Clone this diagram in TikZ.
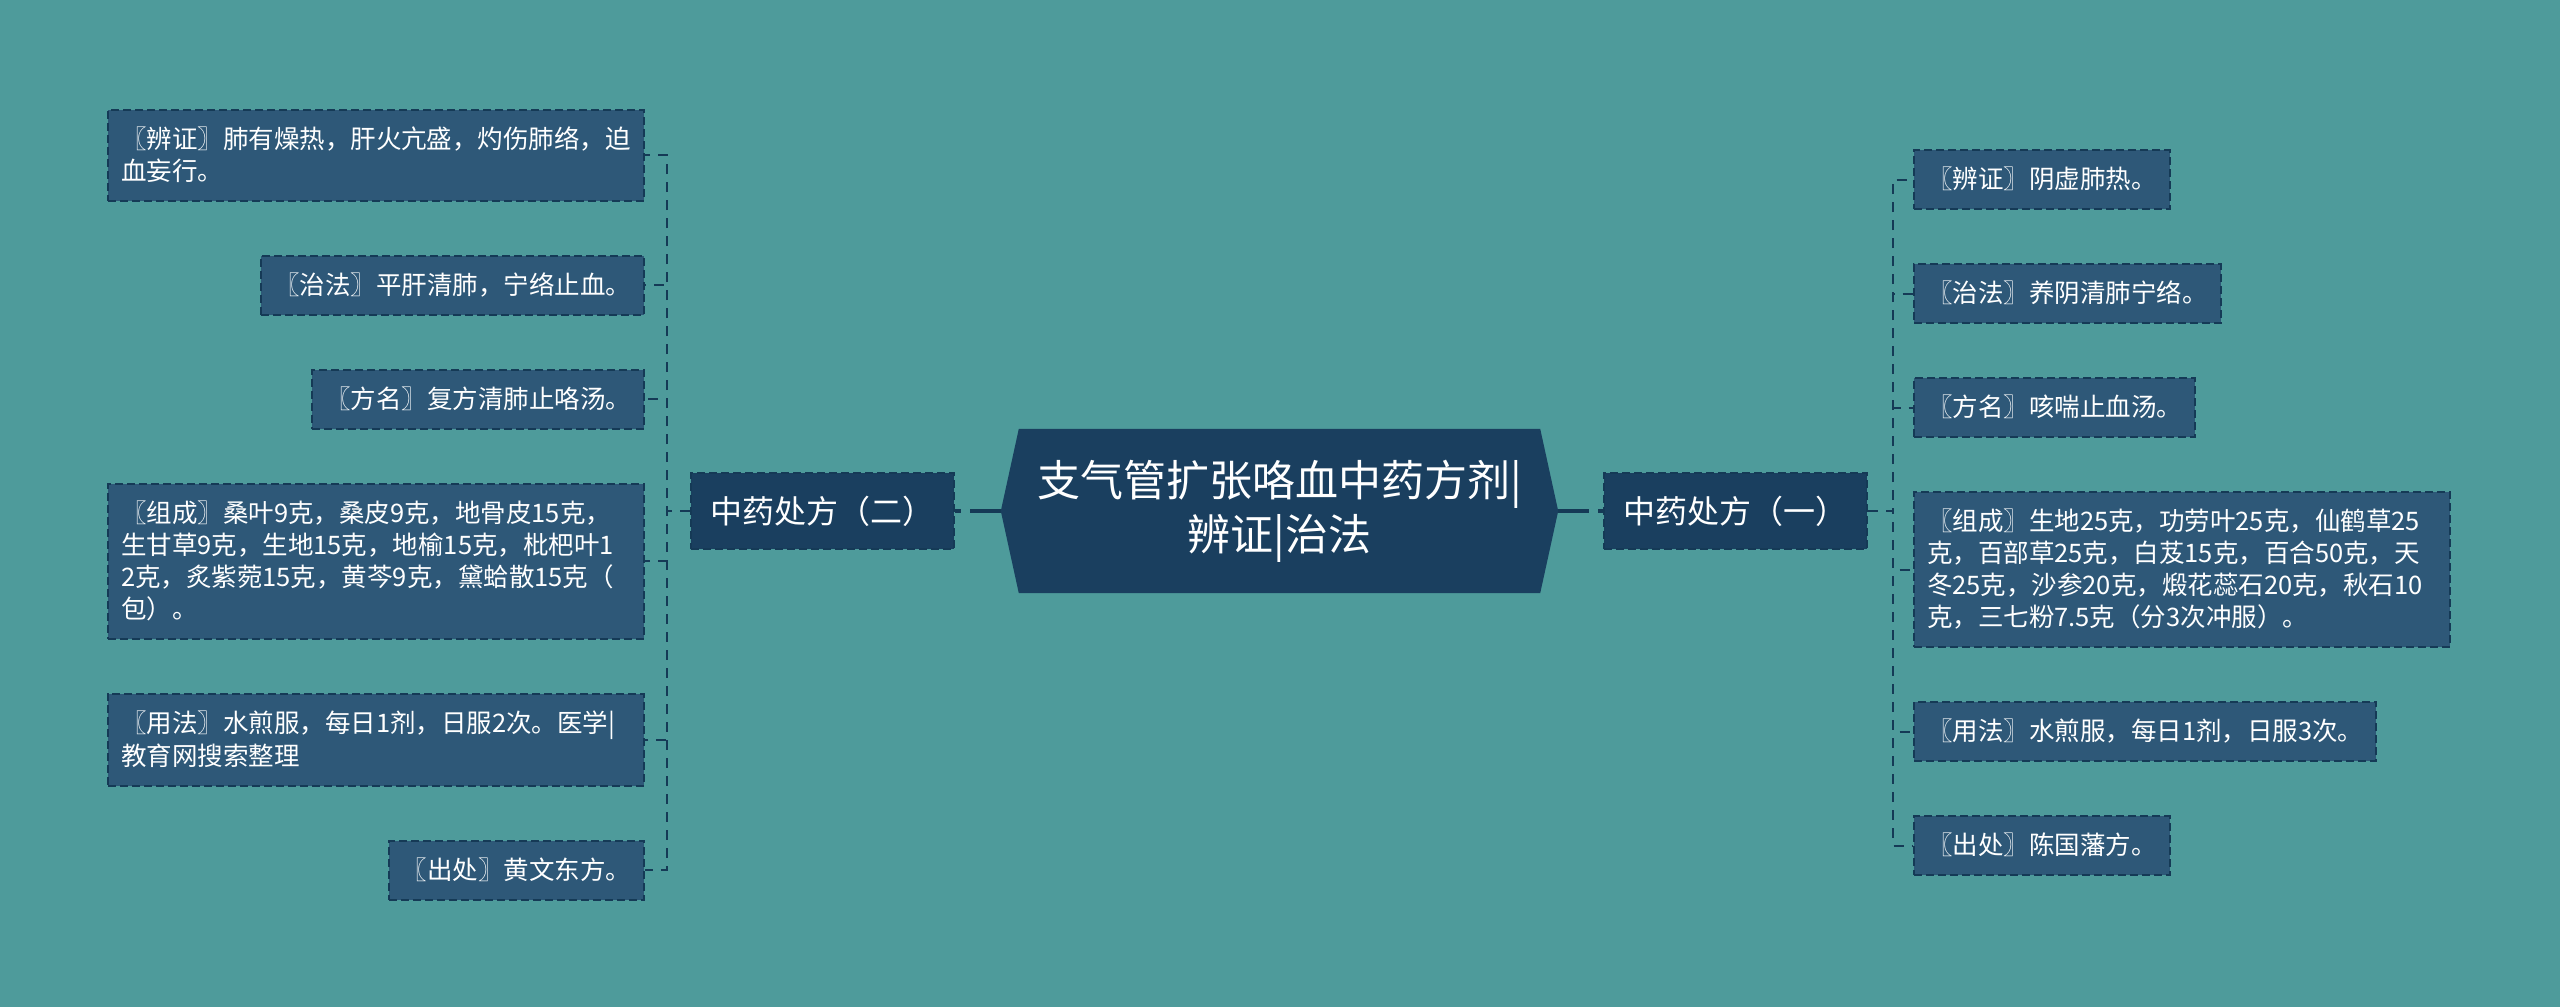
\documentclass[tikz,border=0pt]{standalone}
\usepackage{fontspec}
\setmainfont{Noto Sans CJK SC}
\usetikzlibrary{positioning, backgrounds}
\definecolor{bgteal}{HTML}{4E9B9B}
\definecolor{leaffill}{HTML}{2E5878}
\definecolor{darkfill}{HTML}{1A3F5F}
\definecolor{edgeblue}{HTML}{153A56}
\newcommand{\leafstrut}{\rule[-7pt]{0pt}{32pt}}
\tikzset{
    x=1pt, y=-1pt, % one unit is one pixel of the reference
    node distance=53pt, % gap between two leaves of one branch
    leaf/.style={draw=edgeblue, fill=leaffill, line width=2pt, dash pattern=on 8pt off 4pt,
        text=white, align=left, inner xsep=13pt, inner ysep=13.5pt,
        font=\fontsize{25.5pt}{32pt}\selectfont,
        execute at begin node=\leafstrut, execute at end node=\leafstrut}, % the small boxes
    branch/.style={draw=edgeblue, fill=darkfill, line width=2pt, dash pattern=on 8pt off 4pt,
        text=white, inner xsep=19.5pt, minimum height=76pt,
        font=\fontsize{32pt}{38pt}\selectfont}, % the two prescriptions
    root/.style={text=white, align=center, inner sep=0pt, minimum width=557pt,
        minimum height=164pt, font=\fontsize{43pt}{54pt}\selectfont}, % the title
    link/.style={draw=edgeblue, line width=2pt, dash pattern=on 10pt off 8pt}, % branch to leaf
    trunk/.style={draw=edgeblue, line width=3.5pt, dash pattern=on 31pt off 9pt}, % title to branch
}

\begin{document}
\begin{tikzpicture}
    \useasboundingbox (0,0) rectangle (2560,1007);
    \begin{scope}[on background layer]
        \fill[bgteal] (0,0) rectangle (2560,1007);
    \end{scope}

    \node[root] (root) at (1279.5,511) {支气管扩张咯血中药方剂|\\辨证|治法};
    \node[branch, right=45pt of root] (p1) {中药处方（一）};
    \node[branch, left=46pt of root] (p2) {中药处方（二）};

    % leaves of the first prescription
    \node[leaf, anchor=west] (a1) at (1913,179.5) {〖辨证〗阴虚肺热。};
    \node[leaf, below=of a1.south west, anchor=north west] (a2) {〖治法〗养阴清肺宁络。};
    \node[leaf, below=of a2.south west, anchor=north west] (a3) {〖方名〗咳喘止血汤。};
    \node[leaf, text width=510pt, below=of a3.south west, anchor=north west] (a4)
        {〖组成〗生地25克，功劳叶25克，仙鹤草25\\克，百部草25克，白芨15克，百合50克，天\\冬25克，沙参20克，煅花蕊石20克，秋石10\\克，三七粉7.5克（分3次冲服）。};
    \node[leaf, below=of a4.south west, anchor=north west] (a5) {〖用法〗水煎服，每日1剂，日服3次。};
    \node[leaf, below=of a5.south west, anchor=north west] (a6) {〖出处〗陈国藩方。};

    % leaves of the second prescription
    \node[leaf, text width=510pt, anchor=east] (b1) at (645,155)
        {〖辨证〗肺有燥热，肝火亢盛，灼伤肺络，迫\\血妄行。};
    \node[leaf, below=of b1.south east, anchor=north east] (b2) {〖治法〗平肝清肺，宁络止血。};
    \node[leaf, below=of b2.south east, anchor=north east] (b3) {〖方名〗复方清肺止咯汤。};
    \node[leaf, text width=510pt, below=of b3.south east, anchor=north east] (b4)
        {〖组成〗桑叶9克，桑皮9克，地骨皮15克，\\生甘草9克，生地15克，地榆15克，枇杷叶1\\2克，炙紫菀15克，黄芩9克，黛蛤散15克（\\包）。};
    \node[leaf, text width=510pt, below=of b4.south east, anchor=north east] (b5)
        {〖用法〗水煎服，每日1剂，日服2次。医学|\\教育网搜索整理};
    \node[leaf, below=of b5.south east, anchor=north east] (b6) {〖出处〗黄文东方。};

    \begin{scope}[on background layer]
        \fill[darkfill] (root.west) -- ([xshift=18pt]root.north west) -- ([xshift=-18pt]root.north east)
            -- (root.east) -- ([xshift=-18pt]root.south east) -- ([xshift=18pt]root.south west) -- cycle;
    \end{scope}

    \draw[trunk]
    (root.east) -- (p1.west)
    (root.west) -- (p2.east);
    \draw[link]
    (p1.east) -- ++(25,0) |- (a1.west)
    (p1.east) -- ++(25,0) |- (a2.west)
    (p1.east) -- ++(25,0) |- (a3.west)
    (p1.east) -- ++(25,0) |- (a4.west)
    (p1.east) -- ++(25,0) |- (a5.west)
    (p1.east) -- ++(25,0) |- (a6.west)
    (p2.west) -- ++(-23,0) |- (b1.east)
    (p2.west) -- ++(-23,0) |- (b2.east)
    (p2.west) -- ++(-23,0) |- (b3.east)
    (p2.west) -- ++(-23,0) |- (b4.east)
    (p2.west) -- ++(-23,0) |- (b5.east)
    (p2.west) -- ++(-23,0) |- (b6.east);
\end{tikzpicture}
\end{document}
